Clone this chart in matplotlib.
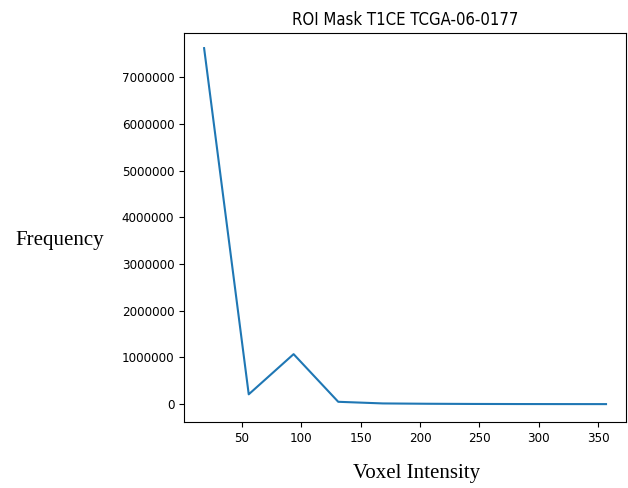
import matplotlib
matplotlib.use("Agg")
import matplotlib.pyplot as plt

intensity = [18.0, 55.6, 93.4, 131.0, 168.6, 206.2, 243.8, 281.4, 319.0, 356.6]
frequency = [7620000, 210000, 1070000, 50000, 15000, 8000, 4000, 2000, 1000, 500]

title = "ROI Mask T1CE TCGA-06-0177"
xlabel = "Voxel Intensity"
ylabel = "Frequency"

fig = plt.figure(figsize=(6.28, 4.88), dpi=100)
ax = fig.add_axes([0.293, 0.135, 0.704, 0.797])
ax.plot(intensity, frequency, color="#1f77b4", linewidth=1.5)
ax.set_xticks([50, 100, 150, 200, 250, 300, 350])
ax.set_yticks([0, 1000000, 2000000, 3000000, 4000000, 5000000, 6000000, 7000000])
ax.set_ylim(-385000, 7940000)
ax.ticklabel_format(axis="y", style="plain", useOffset=False)
for lab in ax.get_xticklabels() + ax.get_yticklabels():
    lab.set_fontstretch("condensed")
    lab.set_fontsize(9.5)
ax.set_title(title, fontsize=12, fontstretch="condensed")
fig.text(0.095, 0.508, ylabel, fontfamily="Liberation Serif", fontsize=15, ha="center", va="center")
fig.text(0.664, 0.03, xlabel, fontfamily="Liberation Serif", fontsize=15, ha="center", va="center")
fig.savefig("out.png", dpi=100)
